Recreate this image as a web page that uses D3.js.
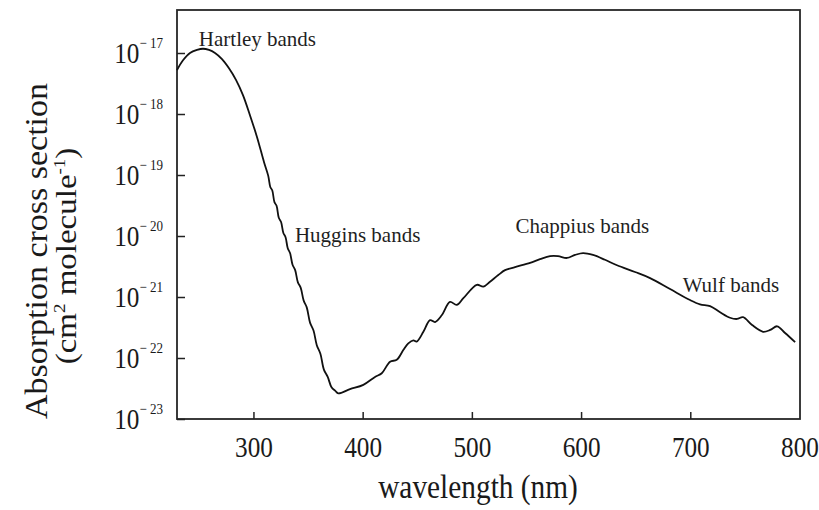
<!DOCTYPE html>
<html>
<head>
<meta charset="utf-8">
<style>
body { margin: 0; background: #fff; }
svg { display: block; }
.tick line { stroke: #222; stroke-width: 1.5px; }
.tick text { fill: #1a1a1a; font-family: "Liberation Serif", "Times New Roman", serif; }
.note { fill: #1f1f1f; font-family: "Liberation Serif", "Times New Roman", serif; font-size: 21px; }
.title { fill: #1a1a1a; font-family: "Liberation Serif", "Times New Roman", serif; }
</style>
<script src="https://cdn.jsdelivr.net/npm/d3@7"></script>
</head>
<body>
<script>
// wavelength in nm, log10 of cross section (cm2 molecule-1)
var wavelength = [230.0, 235.5, 241.9, 248.3, 253.8, 259.3, 264.8, 271.2, 277.6, 284.0,
  290.4, 296.8, 303.3, 309.7, 313.5, 315.5, 317.2, 319.3, 321.1, 323.2,
  325.3, 327.4, 329.4, 331.4, 333.5, 335.8, 338.2, 340.7, 343.3, 346.0,
  348.8, 351.8, 355.0, 358.0, 361.3, 364.5, 368.0, 371.5, 375.0, 377.7,
  388.4, 400.6, 411.3, 417.5, 425.1, 431.2, 437.2, 441.8, 446.4, 449.5,
  455.6, 461.7, 466.3, 472.4, 480.0, 486.1, 492.2, 504.5, 510.5, 516.6,
  524.2, 530.4, 539.5, 553.3, 562.4, 571.6, 578.9, 587.1, 594.5, 601.8,
  610.9, 621.9, 632.9, 649.4, 663.2, 681.5, 699.8, 708.9, 718.1, 727.3,
  736.4, 742.8, 748.3, 756.6, 766.6, 773.2, 779.5, 786.8, 796.0];
var logSigma = [-17.28, -17.12, -17.00, -16.95, -16.93, -16.95, -17.00, -17.10, -17.25, -17.44,
  -17.69, -18.02, -18.38, -18.79, -19.01, -19.20, -19.25, -19.45, -19.50, -19.70,
  -19.77, -19.95, -20.02, -20.20, -20.28, -20.47, -20.56, -20.76, -20.85, -21.06,
  -21.17, -21.42, -21.55, -21.79, -21.93, -22.19, -22.31, -22.48, -22.54, -22.58,
  -22.51, -22.44, -22.31, -22.25, -22.06, -22.03, -21.87, -21.76, -21.71, -21.73,
  -21.57, -21.38, -21.41, -21.30, -21.08, -21.13, -21.02, -20.80, -20.83, -20.75,
  -20.64, -20.56, -20.51, -20.44, -20.38, -20.33, -20.33, -20.36, -20.31, -20.28,
  -20.31, -20.39, -20.48, -20.59, -20.69, -20.87, -21.05, -21.12, -21.15, -21.25,
  -21.34, -21.36, -21.33, -21.46, -21.57, -21.54, -21.48, -21.59, -21.74];

var xTicks = [300, 400, 500, 600, 700, 800];
var yTickExp = [17, 18, 19, 20, 21, 22, 23];

var bandNames = ["Hartley bands", "Huggins bands", "Chappius bands", "Wulf bands"];
var bandWl = [250, 338, 540, 693];
var bandLog = [-16.88, -20.1, -19.95, -20.92];

var W = 819, H = 510;
var mLeft = 177, mRight = 800, mTop = 10, mBottom = 419;

var svg = d3.select("body").append("svg")
  .attr("width", W).attr("height", H);

var x = d3.scaleLinear().domain([230, 800]).range([mLeft, 799.5]);
var y = d3.scaleLog().domain([1e-23, Math.pow(10, -16.295)]).range([mBottom, mTop]);

var data = wavelength.map(function(w, i) { return { w: w, s: Math.pow(10, logSigma[i]) }; });

// frame
svg.append("rect")
  .attr("x", mLeft).attr("y", mTop)
  .attr("width", mRight - mLeft).attr("height", mBottom - mTop)
  .attr("fill", "none").attr("stroke", "#262626").attr("stroke-width", 1.8);

// y axis, ticks pointing inward
var yAxis = d3.axisLeft(y)
  .tickValues(yTickExp.map(function(e) { return Math.pow(10, -e); }))
  .tickSizeInner(-8).tickSizeOuter(0).tickPadding(16);
var gy = svg.append("g").attr("transform", "translate(" + mLeft + ",0)").call(yAxis);
gy.select(".domain").remove();
gy.selectAll(".tick text").each(function(d, i) {
  var t = d3.select(this).text(null)
    .attr("x", -16).attr("dy", "0.32em")
    .attr("transform", "scale(0.87,1)")
    .style("font-size", "29px");
  t.append("tspan").text("10");
  t.append("tspan").attr("dy", -15).style("font-size", "15px")
    .text("\u2212 " + yTickExp[i]);
});

// x axis
var xAxis = d3.axisBottom(x).tickValues(xTicks)
  .tickSizeInner(-7).tickSizeOuter(0).tickPadding(17);
var gx = svg.append("g").attr("transform", "translate(0," + mBottom + ")").call(xAxis);
gx.select(".domain").remove();
gx.selectAll(".tick text")
  .attr("transform", "scale(0.87,1)")
  .style("font-size", "29px");
gx.selectAll(".tick").filter(function(d) { return d === 800; }).select("line").remove();

// absorption curve
var line = d3.line()
  .x(function(d) { return x(d.w); })
  .y(function(d) { return y(d.s); })
  .curve(d3.curveCatmullRom.alpha(0.5));

svg.append("path")
  .datum(data)
  .attr("d", line)
  .attr("fill", "none")
  .attr("stroke", "#111")
  .attr("stroke-width", 1.8)
  .attr("stroke-linejoin", "round");

// band labels
svg.selectAll(".note")
  .data(bandNames)
  .enter().append("text")
  .attr("class", "note")
  .attr("x", function(d, i) { return x(bandWl[i]); })
  .attr("y", function(d, i) { return y(Math.pow(10, bandLog[i])); })
  .text(function(d) { return d; });

// axis titles
svg.append("text")
  .attr("class", "title")
  .attr("text-anchor", "middle")
  .attr("transform", "translate(478,498) scale(0.89,1)")
  .style("font-size", "33px")
  .text("wavelength (nm)");

svg.append("text")
  .attr("class", "title")
  .attr("text-anchor", "middle")
  .attr("transform", "translate(47,251) rotate(-90) scale(1,0.9)")
  .style("font-size", "34px")
  .text("Absorption cross section");

var t2 = svg.append("text")
  .attr("class", "title")
  .attr("text-anchor", "middle")
  .attr("transform", "translate(76,256) rotate(-90) scale(1,0.9)")
  .style("font-size", "33px");
t2.append("tspan").text("(cm");
t2.append("tspan").attr("dy", -12).style("font-size", "19px").text("2");
t2.append("tspan").attr("dy", 12).text(" molecule");
t2.append("tspan").attr("dy", -12).style("font-size", "19px").text("-1");
t2.append("tspan").attr("dy", 12).text(")");
</script>
</body>
</html>
